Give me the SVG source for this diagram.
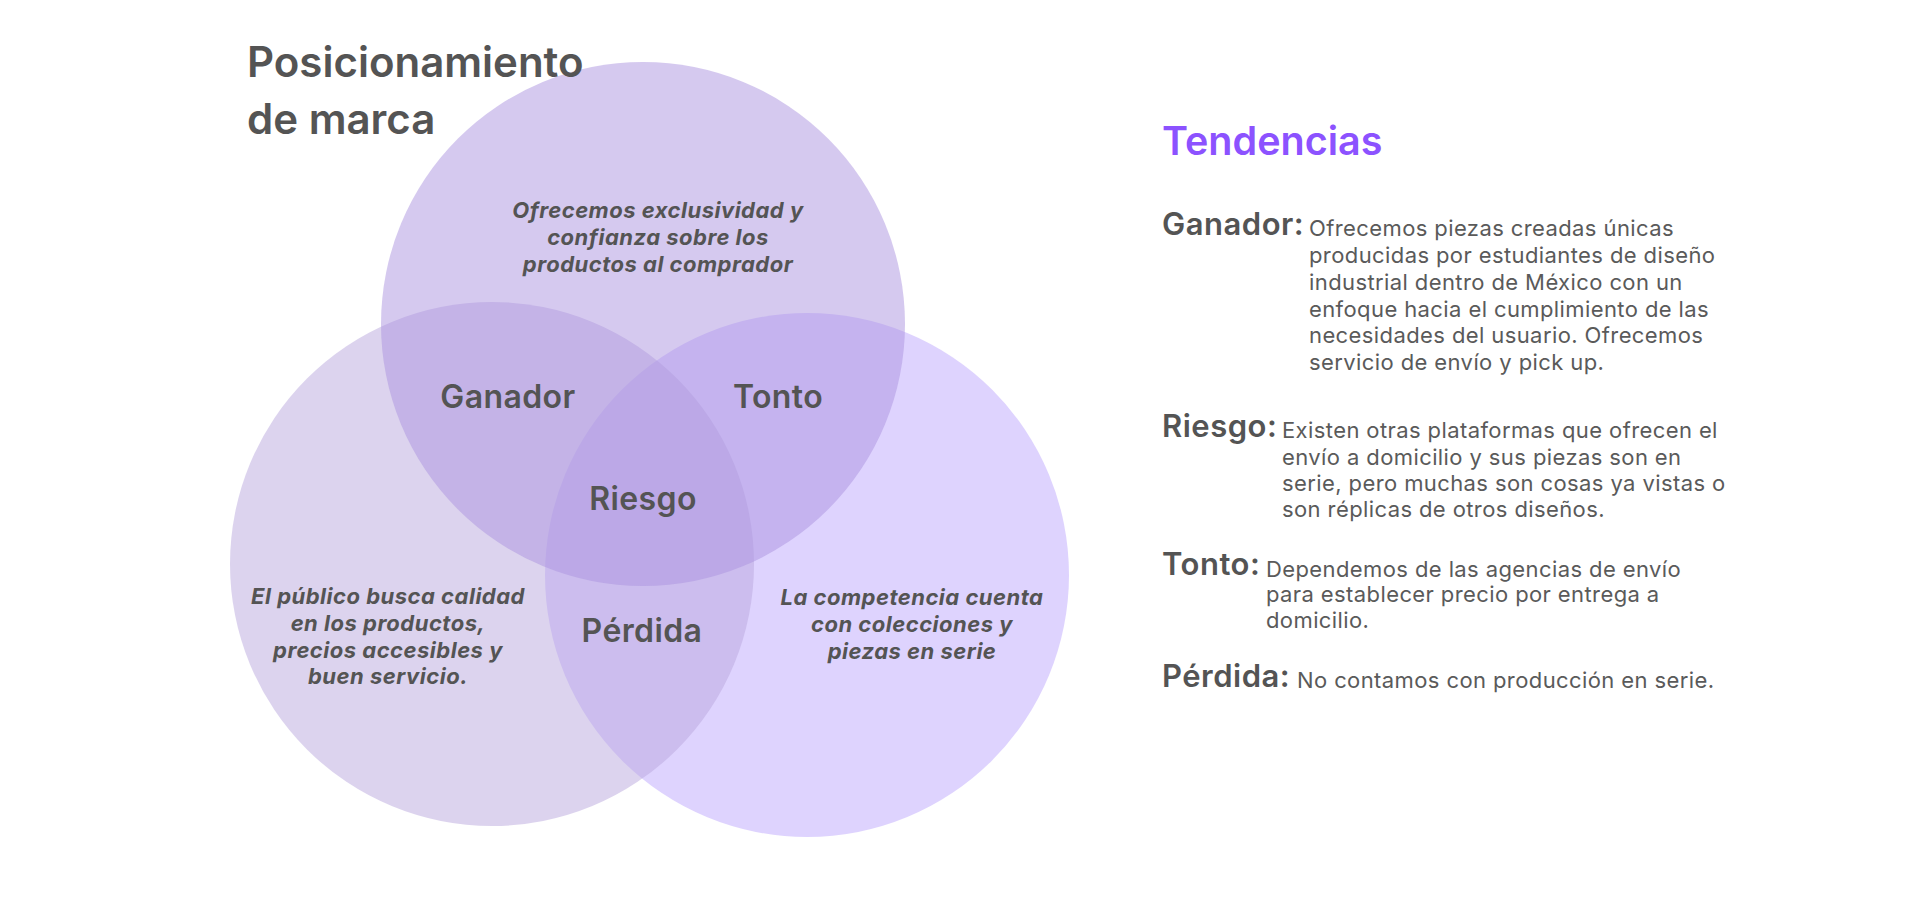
<svg xmlns="http://www.w3.org/2000/svg" width="1920" height="900" viewBox="0 0 1920 900">
<style>
text{font-family:Inter,"DejaVu Sans",sans-serif;fill:#545454}
.title{font-size:42px;font-weight:600}
.region{font-size:32px;font-weight:600;text-anchor:middle;letter-spacing:0.4px}
.desc{font-size:22px;font-weight:700;font-style:italic;text-anchor:middle;letter-spacing:0.5px}
.head{font-size:39.5px;font-weight:600;fill:#8c52ff}
.lab{font-size:31px;font-weight:600;letter-spacing:0.5px}
.body{font-size:22px;font-weight:400;fill:#5a5a5a;letter-spacing:0.4px}
.c{opacity:0.5}
</style>
<rect width="1920" height="900" fill="#ffffff"/>
<g id="circles">
<circle id="circle-right" class="c" cx="807" cy="575" r="262" fill="#bda7fd"/>
<circle id="circle-left" class="c" cx="492" cy="564" r="262" fill="#b9a7dd"/>
<circle id="circle-top" class="c" cx="643" cy="324" r="262" fill="#ab93df"/>
</g>
<g id="title">
<text class="title" x="247" y="77">Posicionamiento</text>
<text class="title" x="247" y="134">de marca</text>
</g>
<g id="desc-top">
<text class="desc" x="658" y="218">Ofrecemos exclusividad y</text>
<text class="desc" x="658" y="245">confianza sobre los</text>
<text class="desc" x="658" y="272">productos al comprador</text>
</g>
<g id="desc-left">
<text class="desc" x="388" y="604">El público busca calidad</text>
<text class="desc" x="388" y="631">en los productos,</text>
<text class="desc" x="388" y="658">precios accesibles y</text>
<text class="desc" x="388" y="684">buen servicio.</text>
</g>
<g id="desc-right">
<text class="desc" x="912" y="605">La competencia cuenta</text>
<text class="desc" x="912" y="632">con colecciones y</text>
<text class="desc" x="912" y="659">piezas en serie</text>
</g>
<g id="node-ganador"><text class="region" x="508" y="408">Ganador</text></g>
<g id="node-tonto"><text class="region" x="778" y="408">Tonto</text></g>
<g id="node-riesgo"><text class="region" x="643" y="510">Riesgo</text></g>
<g id="node-perdida"><text class="region" x="642" y="642">Pérdida</text></g>
<g id="connectors"></g>
<g id="tendencias">
<text class="head" x="1162" y="155">Tendencias</text>
</g>
<g id="legend-ganador">
<text class="lab" x="1162" y="235">Ganador:</text>
<text class="body" x="1309" y="236">Ofrecemos piezas creadas únicas</text>
<text class="body" x="1309" y="263">producidas por estudiantes de diseño</text>
<text class="body" x="1309" y="290">industrial dentro de México con un</text>
<text class="body" x="1309" y="317">enfoque hacia el cumplimiento de las</text>
<text class="body" x="1309" y="343">necesidades del usuario. Ofrecemos</text>
<text class="body" x="1309" y="370">servicio de envío y pick up.</text>
</g>
<g id="legend-riesgo">
<text class="lab" x="1162" y="437">Riesgo:</text>
<text class="body" x="1282" y="438">Existen otras plataformas que ofrecen el</text>
<text class="body" x="1282" y="465">envío a domicilio y sus piezas son en</text>
<text class="body" x="1282" y="491">serie, pero muchas son cosas ya vistas o</text>
<text class="body" x="1282" y="517">son réplicas de otros diseños.</text>
</g>
<g id="legend-tonto">
<text class="lab" x="1162" y="575">Tonto:</text>
<text class="body" x="1266" y="577">Dependemos de las agencias de envío</text>
<text class="body" x="1266" y="602">para establecer precio por entrega a</text>
<text class="body" x="1266" y="628">domicilio.</text>
</g>
<g id="legend-perdida">
<text class="lab" x="1162" y="687">Pérdida:</text>
<text class="body" x="1297" y="688">No contamos con producción en serie.</text>
</g>
</svg>
